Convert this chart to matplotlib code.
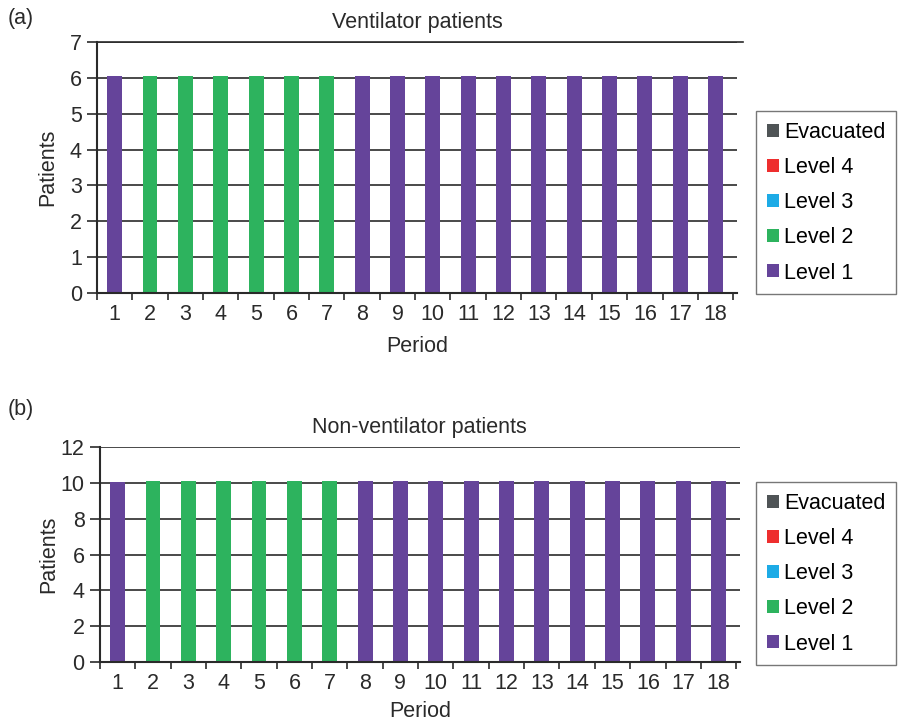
import numpy as np
import matplotlib

matplotlib.use("Agg")
import matplotlib.pyplot as plt
from matplotlib.patches import Patch

periods = list(range(1, 19))
series_names = ["Level 1", "Level 2", "Level 3", "Level 4", "Evacuated"]
colors = ["#65449a", "#2db35e", "#1dabe6", "#ee2e2e", "#4f5456"]

# ventilator patients per period by level
vent_l1 = [6.05, 0, 0, 0, 0, 0, 0, 6.05, 6.05, 6.05, 6.05, 6.05, 6.05, 6.05, 6.05, 6.05, 6.05, 6.05]
vent_l2 = [0, 6.05, 6.05, 6.05, 6.05, 6.05, 6.05, 0, 0, 0, 0, 0, 0, 0, 0, 0, 0, 0]
vent_l3 = [0] * 18
vent_l4 = [0] * 18
vent_ev = [0] * 18

# non-ventilator patients per period by level
nonv_l1 = [10.04, 0, 0, 0, 0, 0, 0, 10.09, 10.09, 10.09, 10.09, 10.09, 10.09, 10.09, 10.09, 10.09, 10.09, 10.09]
nonv_l2 = [0, 10.09, 10.09, 10.09, 10.09, 10.09, 10.09, 0, 0, 0, 0, 0, 0, 0, 0, 0, 0, 0]
nonv_l3 = [0] * 18
nonv_l4 = [0] * 18
nonv_ev = [0] * 18

plt.rcParams["font.family"] = ["Liberation Sans", "DejaVu Sans"]
ink = "#2a2a2a"
fs = 15.5

fig = plt.figure(figsize=(9.01, 7.24), dpi=100)


def draw_panel(rect, stacks, ymax, ystep, title, tag, tag_y, leg_anchor, long_top, ypad, xpad):
    ax = fig.add_axes(rect)
    x = np.array(periods)
    bottom = np.zeros(len(periods))
    for vals, c in zip(stacks, colors):
        vals = np.array(vals, dtype=float)
        ax.bar(x, vals, width=0.42, bottom=bottom, color=c, zorder=3)
        bottom += vals
    ax.set_xlim(0.5, 18.6)
    ax.set_ylim(0, ymax)
    ax.set_yticks(np.arange(0, ymax + 0.1, ystep))
    ax.set_xticks(periods)
    ax.set_xticks(np.arange(0.5, 19, 1.0), minor=True)
    ax.tick_params(axis="x", which="major", length=0, labelsize=fs, colors=ink, pad=8)
    ax.tick_params(axis="x", which="minor", length=5, width=1.2, color=ink, direction="out")
    ax.tick_params(axis="y", length=7, width=1.2, color=ink, labelsize=fs, labelcolor=ink, pad=4)
    ax.yaxis.grid(True, color=ink, linewidth=1.2, zorder=0)
    ax.set_axisbelow(True)
    if long_top:
        ax.axhline(ymax, xmax=1.01, color=ink, linewidth=1.2, clip_on=False)
    for s in ["top", "right"]:
        ax.spines[s].set_visible(False)
    for s in ["left", "bottom"]:
        ax.spines[s].set_color(ink)
        ax.spines[s].set_linewidth(1.5)
        ax.spines[s].set_zorder(4)
    ax.set_xlabel("Period", fontsize=fs, color=ink, labelpad=xpad)
    ax.set_ylabel("Patients", fontsize=fs, color=ink, labelpad=ypad)
    ax.set_title(title, fontsize=fs, color=ink, pad=10)
    fig.text(0.008, tag_y, tag, fontsize=fs, color=ink, va="center")
    handles = [Patch(facecolor=c, label=n) for n, c in zip(series_names, colors)][::-1]
    fig.legend(handles=handles, loc="upper left", bbox_to_anchor=leg_anchor,
               fontsize=fs, frameon=True, fancybox=False, edgecolor="#555555",
               handlelength=0.55, handleheight=0.55, handletextpad=0.25,
               labelspacing=0.66, borderpad=0.5, borderaxespad=0)
    return ax


draw_panel([0.1077, 0.5953, 0.71, 0.3467],
           [vent_l1, vent_l2, vent_l3, vent_l4, vent_ev],
           7, 1, "Ventilator patients", "(a)", 0.975, (0.839, 0.8467), True, 8, 8)
draw_panel([0.111, 0.0856, 0.71, 0.297],
           [nonv_l1, nonv_l2, nonv_l3, nonv_l4, nonv_ev],
           12, 2, "Non-ventilator patients", "(b)", 0.434, (0.839, 0.3343), False, 1, 5)

fig.savefig("out.png", dpi=100)
